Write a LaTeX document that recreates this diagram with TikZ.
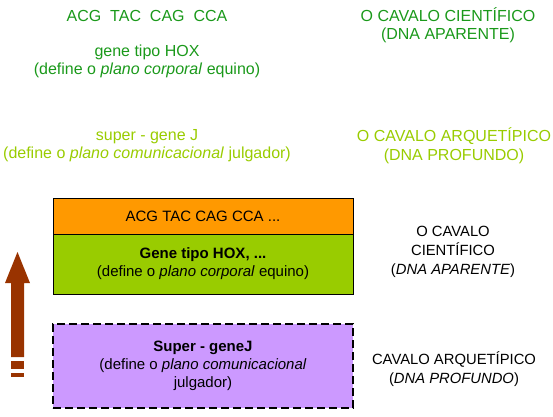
\documentclass[tikz,border=0pt]{standalone}
\usepackage{fontspec}
\setmainfont{Liberation Sans}
\usepackage{tikz}
\definecolor{dark-green}{HTML}{1A991A}
\definecolor{lime-green}{HTML}{99CC00}
\definecolor{tangerine}{HTML}{FF9900}
\definecolor{lavender}{HTML}{CC99FF}
\definecolor{rust}{HTML}{993300}

\tikzset{
  caption/.style={align=center, inner sep=0pt, font=\fontsize{16}{18.5}\selectfont},
  layer/.style={draw=black, line width=1pt, minimum width=300pt, inner sep=0pt, align=center, font=\fontsize{15}{18}\selectfont},
  side/.style={align=center, inner sep=0pt, font=\fontsize{14.8}{19}\selectfont}
}

\begin{document}
\begin{tikzpicture}[x=1pt, y=-1pt]
    \useasboundingbox (0, 0) rectangle (553, 416);
    % upper labels
    \node[caption, dark-green] (seq) at (147, 16) {ACG\ \ TAC\ \ CAG\ \ CCA};
    \node[caption, dark-green] (hox) at (147, 61.5) {gene tipo HOX\\(define o \textit{plano corporal} equino)};
    \node[caption, lime-green] (superj) at (147, 145.5) {super - gene J\\(define o \textit{plano comunicacional} julgador)};
    \node[caption, dark-green] (cientifico) at (448, 25) {O CAVALO CIENTÍFICO\\(DNA APARENTE)};
    \node[caption, lime-green] (arquetipico) at (454, 145.5) {O CAVALO ARQUETÍPICO\\(DNA PROFUNDO)};
    % layers
    \node[layer, fill=tangerine, minimum height=36pt] (seqbox) at (203, 216) {ACG TAC CAG CCA ...};
    \node[layer, fill=lime-green, minimum height=60pt] (hoxbox) at (203, 264) {\textbf{Gene tipo HOX, ...}\\(define o \textit{plano corporal} equino)};
    \node[layer, fill=lavender, minimum height=84pt, dash pattern=on 8pt off 4pt, line width=1.6pt] (superbox) at (203, 366) {\textbf{Super - geneJ}\\(define o \textit{plano comunicacional}\\julgador)};
    % right labels
    \node[side] (cientificoside) at (453, 252) {O CAVALO\\CIENTÍFICO\\(\textit{DNA APARENTE})};
    \node[side] (arquetipicoside) at (454, 369.5) {CAVALO ARQUETÍPICO\\(\textit{DNA PROFUNDO})};
    % arrow
    \fill[rust] (11, 357) -- (11, 283) -- (5, 283) -- (17.5, 252) -- (30, 283) -- (24, 283) -- (24, 357) -- cycle;
    \fill[rust] (11, 361) rectangle (24, 369);
    \fill[rust] (11, 373) rectangle (24, 377);
\end{tikzpicture}
\end{document}
